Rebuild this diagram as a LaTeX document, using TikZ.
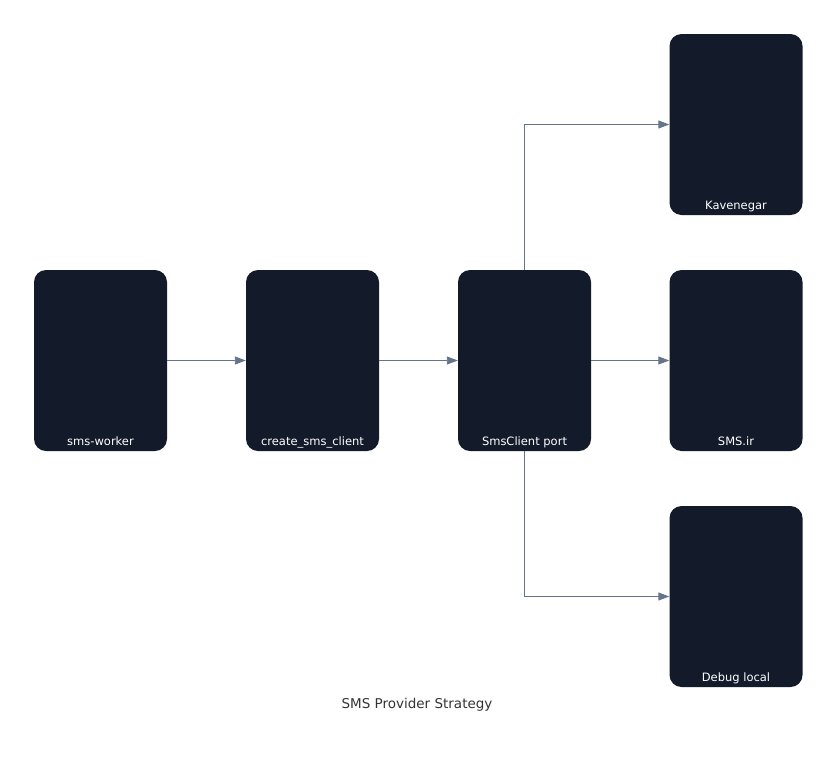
\documentclass[tikz,border=0pt]{standalone}
\usepackage{fontspec}
\setmainfont{DejaVu Sans}
\usetikzlibrary{arrows.meta}
\definecolor{boxc}{HTML}{131A2A}
\definecolor{edgec}{HTML}{64748B}
\definecolor{titlec}{HTML}{333333}
\begin{document}
\begin{tikzpicture}[x=1pt,y=-1pt,
  box/.style={draw=none,fill=boxc,rounded corners=12pt,minimum width=133pt,minimum height=181pt,inner sep=0pt},
  lbl/.style={text=white,font=\fontsize{11.5}{13}\selectfont,anchor=base},
  conn/.style={draw=edgec,line width=0.9pt,-{Triangle[length=11pt,width=8pt]}}]
\useasboundingbox (0,0) rectangle (837,758);
\node[box] (w) at (100.5,360.5) {};
\node[box] (c) at (312.5,360.5) {};
\node[box] (s) at (524.5,360.5) {};
\node[box] (k) at (736,124.5) {};
\node[box] (i) at (736,360.5) {};
\node[box] (d) at (736,596.5) {};
\node[lbl] (wl) at (100.5,445) {sms-worker};
\node[lbl] (cl) at (312.5,445) {create\_sms\_client};
\node[lbl] (sl) at (524.5,445) {SmsClient port};
\node[lbl] (kl) at (736,209) {Kavenegar};
\node[lbl] (il) at (736,445) {SMS.ir};
\node[lbl] (dl) at (736,681) {Debug local};
\draw[conn] (w.east) -- (c.west);
\draw[conn] (c.east) -- (s.west);
\draw[conn] (s.east) -- (i.west);
\draw[conn] (s.north) |- (k.west);
\draw[conn] (s.south) |- (d.west);
\node[text=titlec,font=\fontsize{13.5}{16}\selectfont] (t) at (417,705) {SMS Provider Strategy};
\end{tikzpicture}
\end{document}
